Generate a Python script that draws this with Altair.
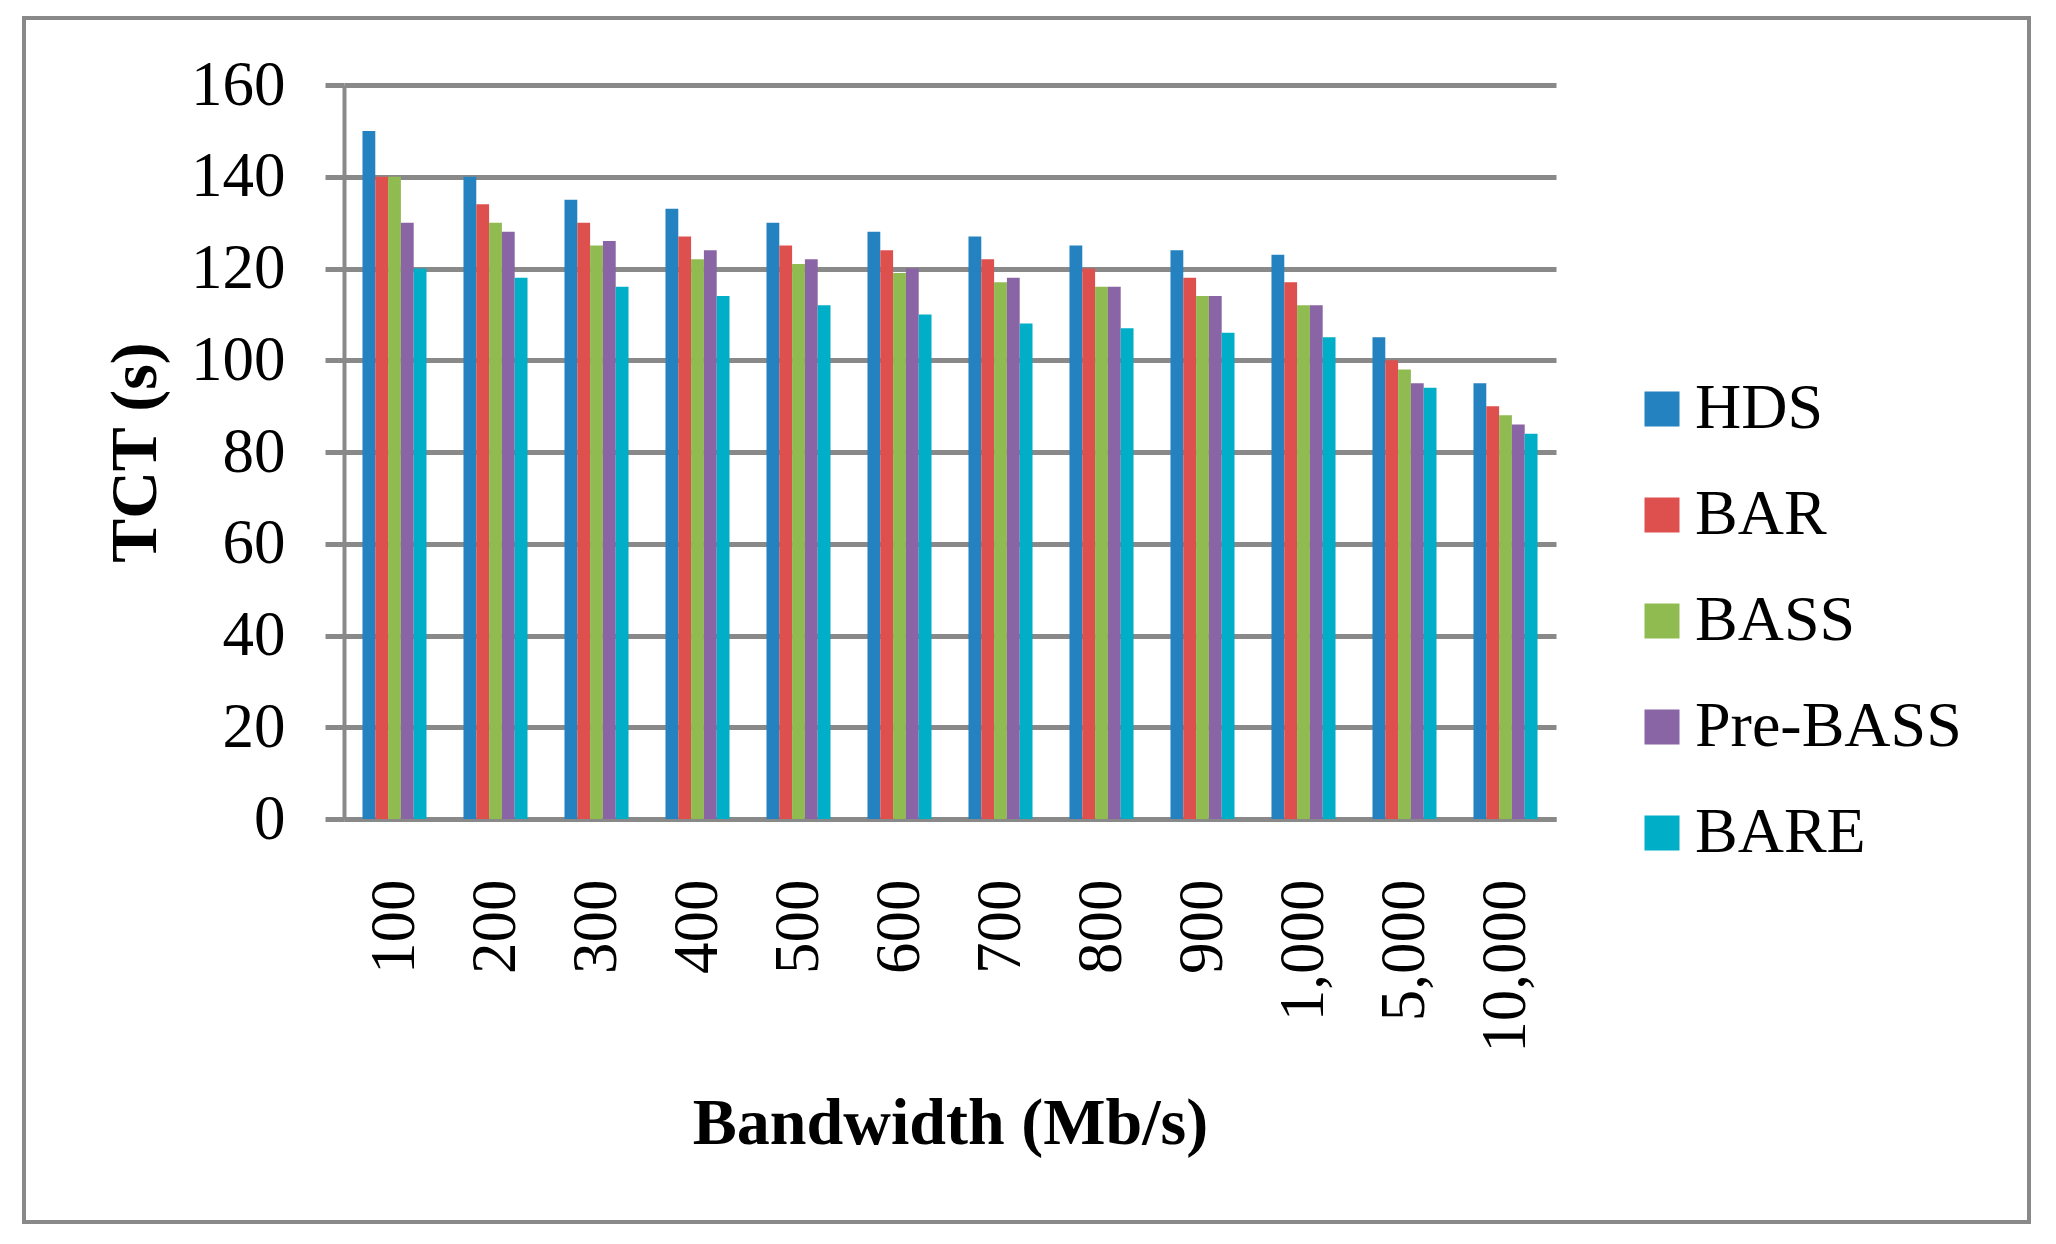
import altair as alt
import pandas as pd

bandwidth = ["100", "200", "300", "400", "500", "600", "700", "800", "900", "1,000", "5,000", "10,000"]
series = ["HDS", "BAR", "BASS", "Pre-BASS", "BARE"]
hds = [150, 140, 135, 133, 130, 128, 127, 125, 124, 123, 105, 95]
bar = [140, 134, 130, 127, 125, 124, 122, 120, 118, 117, 100, 90]
bass = [140, 130, 125, 122, 121, 119, 117, 116, 114, 112, 98, 88]
pre_bass = [130, 128, 126, 124, 122, 120, 118, 116, 114, 112, 95, 86]
bare = [120, 118, 116, 114, 112, 110, 108, 107, 106, 105, 94, 84]
colors = ["#2482C0", "#DE504E", "#8FBB51", "#8A65A5", "#00AEC7"]
y_ticks = [0, 20, 40, 60, 80, 100, 120, 140, 160]

values = {"HDS": hds, "BAR": bar, "BASS": bass, "Pre-BASS": pre_bass, "BARE": bare}
rows = []
for s in series:
    for b, v in zip(bandwidth, values[s]):
        rows.append({"bw": b, "series": s, "tct": v})
df = pd.DataFrame(rows)

FONT = "Liberation Serif"
GREY = "#898989"

bars = alt.Chart(df).mark_bar().encode(
    x=alt.X("bw:N", sort=bandwidth,
            scale=alt.Scale(paddingInner=0.366, paddingOuter=0.183),
            axis=alt.Axis(title="Bandwidth (Mb/s)", labelAngle=270, labelFont=FONT,
                          labelFontSize=63, labelColor="black", labelPadding=60,
                          ticks=False, tickSize=0, domainColor=GREY, domainWidth=5,
                          grid=False, titleFont=FONT, titleFontSize=66,
                          titleFontWeight="bold", titleColor="black",
                          titleBaseline="alphabetic", titleY=324)),
    xOffset=alt.XOffset("series:N", sort=series,
                        scale=alt.Scale(domain=series, paddingInner=0, paddingOuter=0)),
    y=alt.Y("tct:Q", scale=alt.Scale(domain=[0, 160], nice=False),
            axis=alt.Axis(title="TCT (s)", values=y_ticks, labelFont=FONT,
                          labelFontSize=63, labelColor="black", labelPadding=40,
                          tickSize=19, tickColor=GREY, tickWidth=5,
                          domainColor=GREY, domainWidth=4,
                          grid=True, gridColor=GREY, gridWidth=5,
                          titleFont=FONT, titleFontSize=66, titleFontWeight="bold",
                          titleColor="black", titleAngle=270, titleAlign="center",
                          titleBaseline="alphabetic", titleX=-189, titleY=367)),
    color=alt.Color("series:N", sort=series,
                    scale=alt.Scale(domain=series, range=colors),
                    legend=alt.Legend(title=None, orient="none", legendX=1286, legendY=292,
                                      labelFont=FONT, labelFontSize=64, labelColor="black",
                                      labelLimit=600,
                                      symbolType="square", symbolSize=1225,
                                      symbolStrokeWidth=0, rowPadding=42, labelOffset=1,
                                      padding=0)),
)

border = alt.Chart(pd.DataFrame({"k": [0]})).mark_rect(
    fill="transparent", stroke=GREY, strokeWidth=4
).encode(
    x=alt.value(-320), x2=alt.value(1685), y=alt.value(-67), y2=alt.value(1137)
)

chart = alt.layer(border, bars).properties(
    width=1212, height=734,
    autosize=alt.AutoSizeParams(type="none"),
    padding={"left": 336, "top": 77, "right": 492, "bottom": 417},
    background="white",
).configure_view(strokeWidth=0)

chart.save("out.html", embed_options={"renderer": "svg", "actions": False})
